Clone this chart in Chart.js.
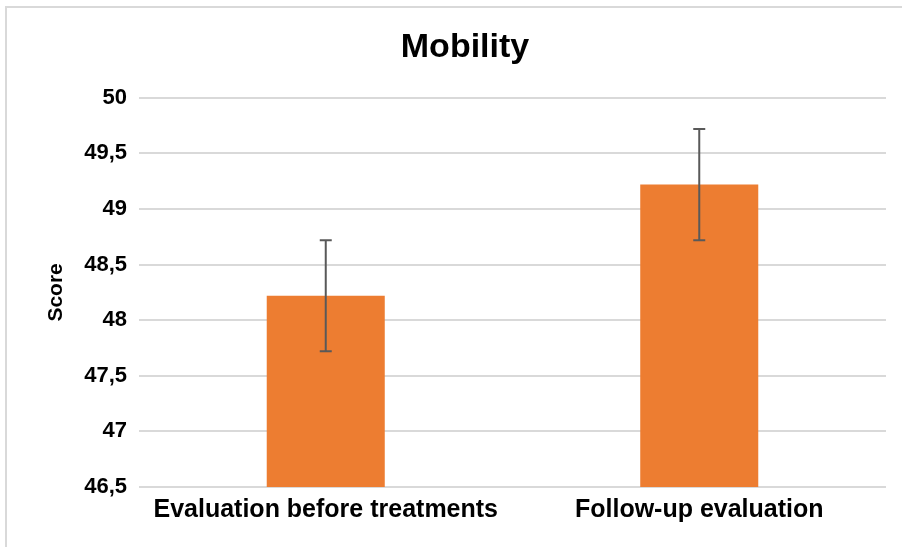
<!DOCTYPE html>
<html>
<head>
<meta charset="utf-8">
<script src="https://cdn.jsdelivr.net/npm/chart.js@4.4.1/dist/chart.umd.min.js"></script>
<style>
  html, body { margin: 0; padding: 0; background: #fff; }
  #wrap { width: 902px; height: 547px; position: relative; }
</style>
</head>
<body>
<div id="wrap"><canvas id="myChart" width="902" height="547"></canvas></div>
<script>
// chart data
const categories = ['Evaluation before treatments', 'Follow-up evaluation'];
const scores = [48.22, 49.22];
const errors = [0.5, 0.5];
const yTicks = { min: 46.5, max: 50, step: 0.5 };

// frame round the chart area, like the office chart border
const framePlugin = {
  id: 'frame',
  beforeDraw(chart) {
    const c = chart.ctx;
    c.save();
    c.fillStyle = '#fff';
    c.fillRect(0, 0, chart.width, chart.height);
    c.strokeStyle = '#d9d9d9';
    c.lineWidth = 2;
    c.beginPath();
    c.moveTo(6, chart.height);
    c.lineTo(6, 7);
    c.lineTo(chart.width, 7);
    c.stroke();
    c.restore();
  }
};

// draw the +/- error bars from the scale
const errorBarPlugin = {
  id: 'errorBars',
  afterDatasetsDraw(chart) {
    const c = chart.ctx;
    const y = chart.scales.y;
    const meta = chart.getDatasetMeta(0);
    c.save();
    c.strokeStyle = '#595959';
    c.lineWidth = 2;
    meta.data.forEach((bar, i) => {
      const top = y.getPixelForValue(scores[i] + errors[i]);
      const bottom = y.getPixelForValue(scores[i] - errors[i]);
      c.beginPath();
      c.moveTo(bar.x, top);
      c.lineTo(bar.x, bottom);
      c.moveTo(bar.x - 6, top);
      c.lineTo(bar.x + 6, top);
      c.moveTo(bar.x - 6, bottom);
      c.lineTo(bar.x + 6, bottom);
      c.stroke();
    });
    c.restore();
  }
};

const font = 'Liberation Sans, Arial, sans-serif';

const ctx = document.getElementById('myChart').getContext('2d');
const myChart = new Chart(ctx, {
  type: 'bar',
  data: {
    labels: categories,
    datasets: [{
      label: 'Score',
      data: scores,
      backgroundColor: '#ed7d31',
      borderWidth: 0,
      categoryPercentage: 1,
      barPercentage: 0.316
    }]
  },
  options: {
    responsive: false,
    animation: false,
    layout: { padding: { left: 44, right: 16, top: 27, bottom: 22 } },
    plugins: {
      legend: { display: false },
      tooltip: { enabled: false },
      title: {
        display: true,
        text: 'Mobility',
        color: '#000',
        font: { family: font, size: 34, weight: 'bold' },
        padding: { top: 0, bottom: 30 }
      }
    },
    scales: {
      x: {
        grid: { display: false },
        border: { display: false },
        ticks: {
          color: '#000',
          font: { family: font, size: 25, weight: 'bold' },
          padding: 0
        }
      },
      y: {
        min: yTicks.min,
        max: yTicks.max,
        afterFit(scale) { scale.width = 95; },
        border: { display: false },
        grid: { color: '#d9d9d9', lineWidth: 2, drawTicks: false },
        ticks: {
          stepSize: yTicks.step,
          color: '#000',
          padding: 12,
          font: { family: font, size: 22, weight: 'bold' },
          callback: v => String(v).replace('.', ',')
        },
        title: {
          display: true,
          text: 'Score',
          color: '#000',
          font: { family: font, size: 21, weight: 'bold' },
          padding: 0
        }
      }
    }
  },
  plugins: [framePlugin, errorBarPlugin]
});
</script>
</body>
</html>
